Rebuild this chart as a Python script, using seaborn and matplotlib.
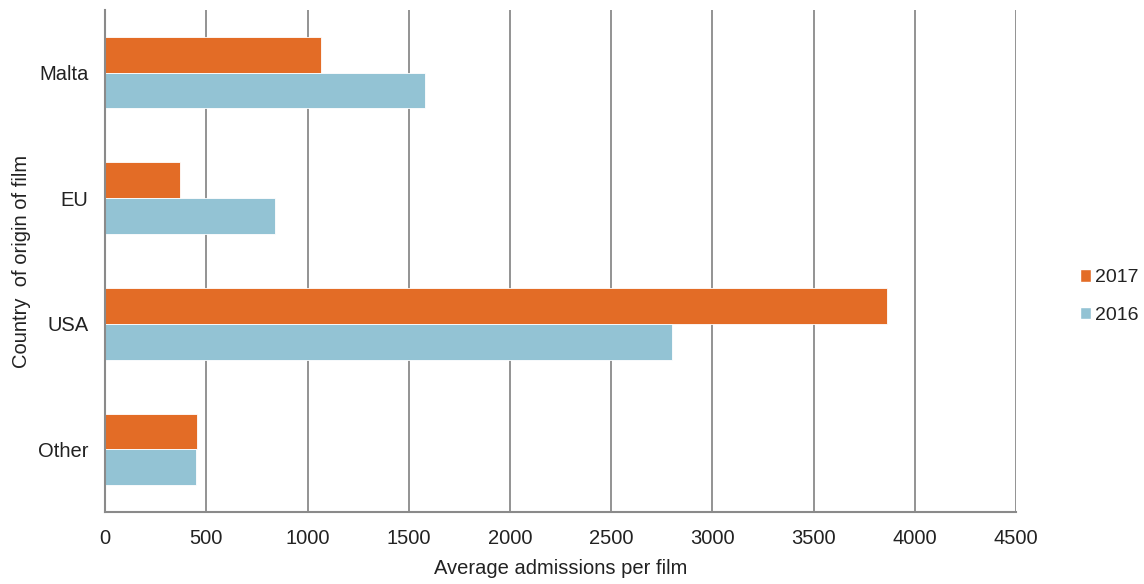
import pandas as pd
import seaborn as sns
import matplotlib.pyplot as plt
from matplotlib.patches import Patch

# values
countries = ['Malta', 'EU', 'USA', 'Other']
years = ['2017', '2016']
adm_2017 = [1066, 372, 3864, 453]
adm_2016 = [1578, 837, 2801, 448]

df = pd.DataFrame({
    'country': countries * 2,
    'year': ['2017'] * 4 + ['2016'] * 4,
    'admissions': adm_2017 + adm_2016,
})

sns.set_theme(style="white")
plt.rcParams['font.family'] = ['Liberation Sans', 'DejaVu Sans']

colours = {'2017': '#E36C26', '2016': '#93C3D4'}

fig = plt.figure(figsize=(11.44, 5.84), dpi=100)
ax = fig.add_axes([0.0918, 0.123, 0.7965, 0.860])

sns.barplot(data=df, x='admissions', y='country', hue='year', hue_order=years,
            order=countries, palette=colours, orient='h', width=0.57,
            edgecolor='white', linewidth=0.6, saturation=1, ax=ax)

ax.set_xlim(0, 4500)
ax.set_xticks(range(0, 4501, 500))
ax.set_ylim(3.5, -0.5)
ax.grid(axis='x', color='#8a8a8a', linewidth=1.3)
ax.set_axisbelow(True)
ax.tick_params(axis='both', length=0, labelsize=14.5, colors='#222222')
ax.tick_params(axis='y', pad=12)
ax.tick_params(axis='x', pad=12)

for s in ['top', 'right']:
    ax.spines[s].set_visible(False)
for s in ['left', 'bottom']:
    ax.spines[s].set_color('#8a8a8a')
    ax.spines[s].set_linewidth(1.5)

ax.set_xlabel('Average admissions per film', fontsize=14.5, color='#222222', labelpad=8)
ax.set_ylabel('Country  of origin of film', fontsize=14.5, color='#222222', labelpad=5)

ax.get_legend().remove()
handles = [Patch(facecolor=colours[y], label=y) for y in years]
fig.legend(handles=handles, loc='center left', bbox_to_anchor=(0.937, 0.492),
           frameon=False, fontsize=14, handlelength=0.6, handleheight=0.6,
           handletextpad=0.2, labelspacing=1.05, borderaxespad=0, labelcolor='#222222')

fig.savefig('out.png', dpi=100)
